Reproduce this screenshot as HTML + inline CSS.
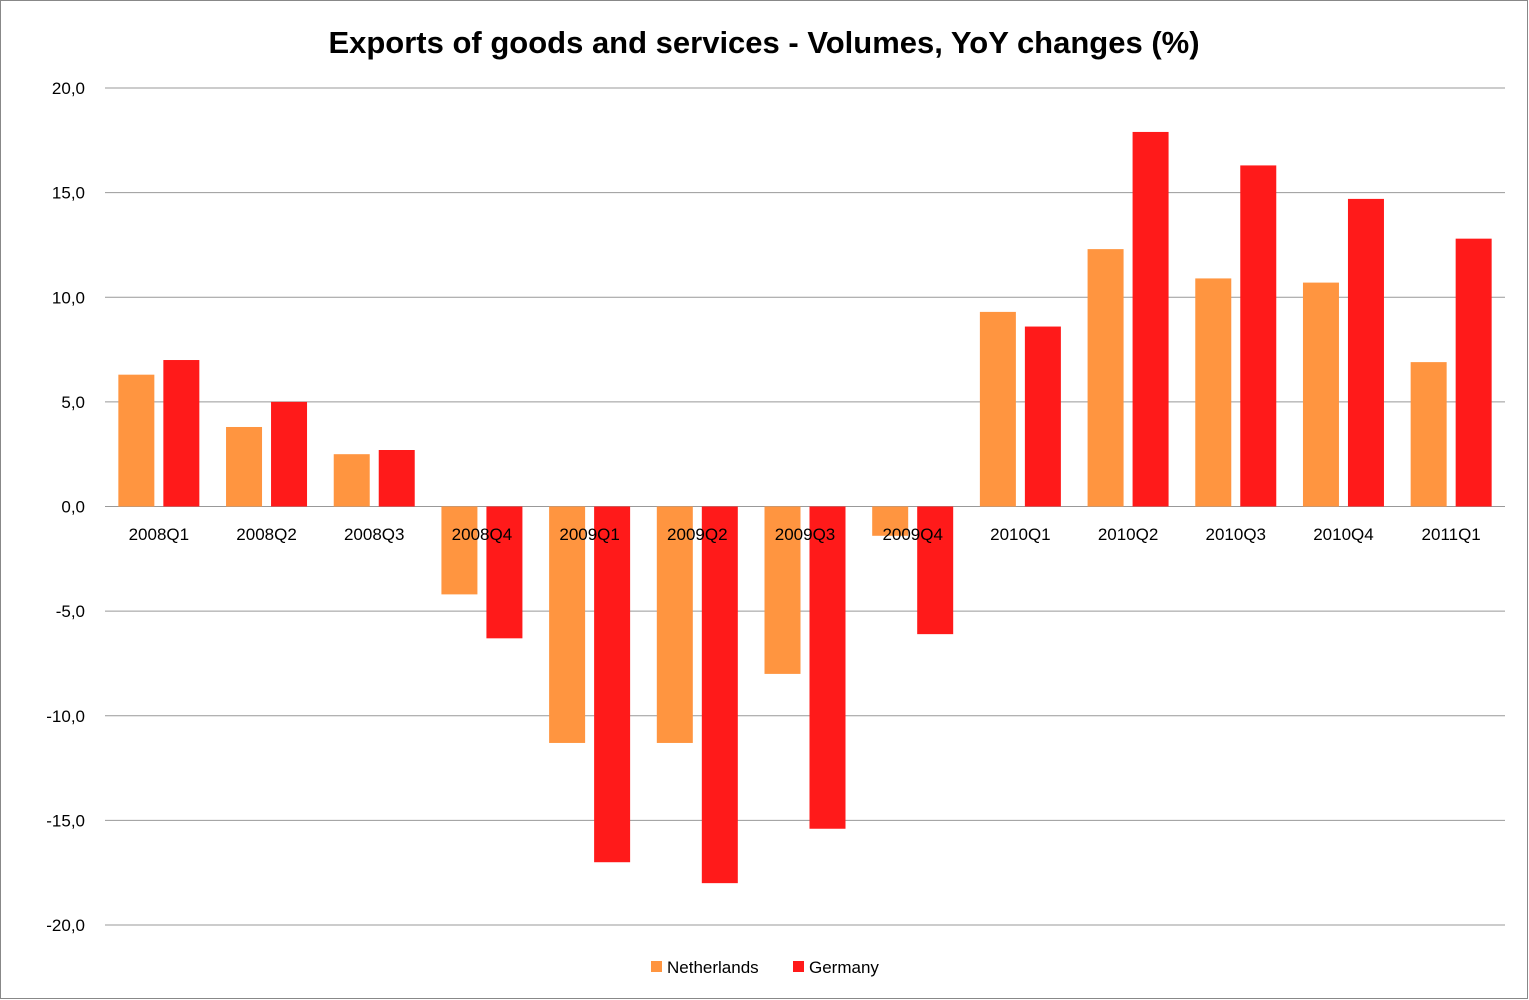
<!DOCTYPE html>
<html><head><meta charset="utf-8"><style>
html,body{margin:0;padding:0;background:#fff;}
svg{display:block;font-family:"Liberation Sans",Arial,sans-serif;}
</style></head><body>
<svg id="chart" width="1529" height="1000">
<rect x="0.5" y="0.5" width="1527" height="998" fill="#fff" stroke="#888"/>
<text x="764" y="53" text-anchor="middle" font-size="31" font-weight="bold" fill="#000">Exports of goods and services - Volumes, YoY changes (%)</text>
<g id="grid"></g><g id="bars"></g><g id="labels"></g>
<g>
<rect x="651" y="961" width="11" height="11" fill="#FF9540"/>
<text x="667" y="973" font-size="17">Netherlands</text>
<rect x="793" y="961" width="11" height="11" fill="#FF1A1A"/>
<text x="809" y="973" font-size="17">Germany</text>
</g>
</svg>
<script>
const categories=["2008Q1","2008Q2","2008Q3","2008Q4","2009Q1","2009Q2","2009Q3","2009Q4","2010Q1","2010Q2","2010Q3","2010Q4","2011Q1"];
const netherlands=[6.3,3.8,2.5,-4.2,-11.3,-11.3,-8.0,-1.4,9.3,12.3,10.9,10.7,6.9];
const germany=[7.0,5.0,2.7,-6.3,-17.0,-18.0,-15.4,-6.1,8.6,17.9,16.3,14.7,12.8];
const yTicks=[20,15,10,5,0,-5,-10,-15,-20];
const NS="http://www.w3.org/2000/svg";
const x0=105,x1=1505,yTop=88,yBot=925,yMax=20,yMin=-20;
const y=v=>yTop+(yMax-v)/(yMax-yMin)*(yBot-yTop);
const bw=(x1-x0)/categories.length;
const xc=i=>x0+bw*(i+0.5);
function mk(t,a,p){const e=document.createElementNS(NS,t);for(const k in a)e.setAttribute(k,a[k]);p.appendChild(e);return e;}
const grid=document.getElementById('grid'),bars=document.getElementById('bars'),labels=document.getElementById('labels');
yTicks.forEach(t=>{
 const l=mk('line',{x1:x0,x2:x1,y1:y(t),y2:y(t),stroke:'#999','stroke-width':1},grid);
 
 
 const tx=mk('text',{x:85,y:y(t)+6,'text-anchor':'end','font-size':17,fill:'#000'},grid);
 tx.textContent=t.toFixed(1).replace('.',',');
 
 
});
const w=36,gap=9;
categories.forEach((c,i)=>{
 const cx=xc(i);
 [[netherlands[i],'#FF9540',cx-gap/2-w,'bar-netherlands'],[germany[i],'#FF1A1A',cx+gap/2,'bar-germany']].forEach(([v,col,bx,nm])=>{
  const r=mk('rect',{x:bx,y:Math.min(y(v),y(0)),width:w,height:Math.abs(y(v)-y(0)),fill:col},bars);
  
  
 });
 const t=mk('text',{x:cx,y:540,'text-anchor':'middle','font-size':17,fill:'#000'},labels);
 t.textContent=c;
 
 
});
</script>
</body></html>
